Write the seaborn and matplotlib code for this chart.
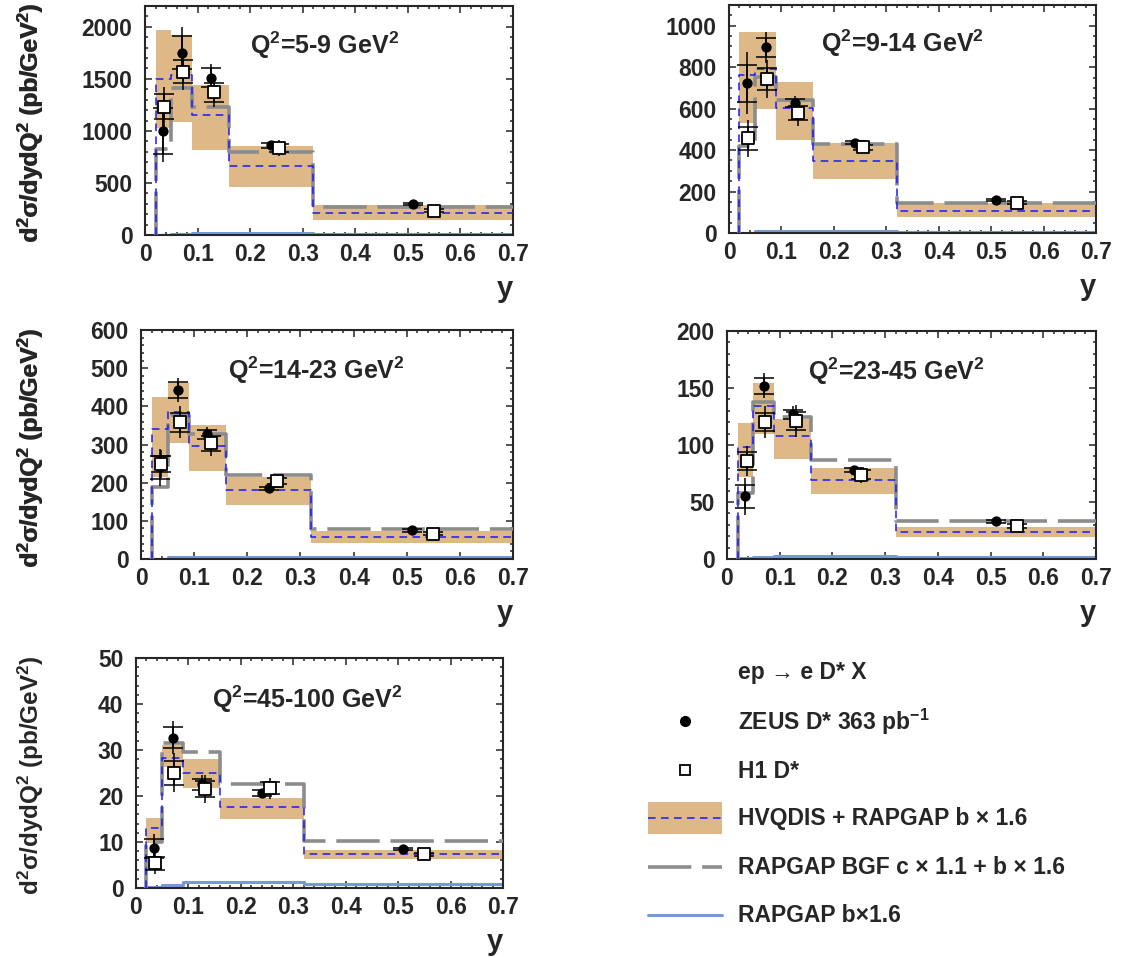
import numpy as np
import seaborn as sns
import matplotlib
matplotlib.use('Agg')
import matplotlib.pyplot as plt
from matplotlib.ticker import MultipleLocator, FuncFormatter
from matplotlib.patches import Rectangle

# y bin edges (same for all Q2 bins)
edges = [0.02, 0.05, 0.09, 0.16, 0.32, 0.70]
x_zeus = [0.035, 0.070, 0.125, 0.240, 0.510]
x_h1 = [0.037, 0.073, 0.131, 0.255, 0.550]

q2_labels = ["5-9", "9-14", "14-23", "23-45", "45-100"]

# ZEUS D* points: value, total error, stat error
zeus_vals = [[1000, 1750, 1510, 860, 300],
             [722, 896, 626, 436, 158],
             [240, 443, 327, 185, 75],
             [55, 152, 127, 78, 33],
             [8.6, 32.7, 22.6, 20.6, 8.5]]
zeus_tot = [[300, 250, 130, 45, 20],
            [150, 75, 35, 15, 10],
            [48, 32, 20, 8, 5],
            [16, 11, 7, 3, 1.5],
            [3.2, 3.5, 2.0, 1.0, 0.5]]
zeus_stat = [[220, 160, 90, 25, 10],
             [90, 45, 20, 8, 5],
             [30, 20, 12, 4, 3],
             [10, 7, 4, 2, 1],
             [2.0, 2.2, 1.2, 0.6, 0.3]]

# H1 D* points
h1_vals = [[1230, 1570, 1370, 835, 235],
           [457, 743, 580, 413, 145],
           [249, 358, 303, 204, 66],
           [86, 120, 121, 74, 29],
           [5.4, 25.1, 21.5, 21.7, 7.3]]
h1_tot = [[190, 175, 140, 80, 25],
          [90, 92, 62, 25, 15],
          [36, 42, 34, 15, 8],
          [13, 14, 14, 7, 3],
          [2.4, 4.3, 3.1, 2.3, 0.8]]
h1_stat = [[120, 110, 90, 40, 12],
           [55, 55, 35, 12, 7],
           [22, 25, 20, 8, 4],
           [8, 8, 8, 4, 1.5],
           [1.4, 2.6, 1.8, 1.3, 0.4]]

# HVQDIS + RAPGAP b x 1.6 : central value and uncertainty band
hvq_vals = [[1500, 1540, 1155, 665, 210],
            [762, 791, 602, 349, 108],
            [340, 384, 297, 181, 58],
            [98, 134, 108, 69, 24],
            [13, 28.2, 25, 17.7, 7.3]]
band_lo = [[1030, 1090, 820, 465, 140],
           [529, 597, 449, 261, 76],
           [216, 305, 231, 141, 43],
           [72, 110, 88, 57, 19],
           [9.7, 26.4, 21.7, 15, 6.2]]
band_hi = [[1970, 1920, 1440, 855, 290],
           [968, 968, 730, 433, 143],
           [425, 462, 350, 216, 74],
           [119, 154, 123, 80, 28],
           [15.3, 31, 28, 19.5, 8.3]]

# RAPGAP BGF c x 1.1 + b x 1.6
bgf_vals = [[830, 1410, 1230, 795, 270],
            [420, 754, 642, 429, 143],
            [189, 377, 327, 219, 78],
            [58, 138, 125, 87, 33],
            [10, 31.5, 29.6, 22.6, 10.2]]

# RAPGAP b x 1.6
rapb_vals = [[3, 10, 20, 20, 10],
             [2, 8, 10, 10, 5],
             [1, 4, 6, 6, 4],
             [0.5, 1.5, 2.5, 3, 2],
             [0.2, 0.7, 1.2, 1.3, 0.85]]

# y-axis ranges / tick steps
y_max = [2200, 1100, 600, 200, 50]
y_major = [500, 200, 100, 50, 10]
y_minor = [100, 50, 20, 10, 2]

# colours
c_band = '#deb887'
c_hvq = '#1a1aff'
c_bgf = '#8c8c8c'
c_rapb = '#7799d6'

sns.set_style('ticks')
plt.rcParams['font.family'] = ['Liberation Sans', 'DejaVu Sans']
plt.rcParams['font.weight'] = 'bold'
plt.rcParams['mathtext.fontset'] = 'custom'
plt.rcParams['mathtext.rm'] = 'Liberation Sans:bold'
plt.rcParams['mathtext.it'] = 'Liberation Sans:bold'
plt.rcParams['mathtext.bf'] = 'Liberation Sans:bold'
plt.rcParams['mathtext.default'] = 'rm'

W, H = 1127, 958
fig = plt.figure(figsize=(W / 100, H / 100), dpi=100)


def px_axes(l, t, r, b):
    return fig.add_axes([l / W, 1 - b / H, (r - l) / W, (b - t) / H])


# panel rectangles in pixels (left, top, right, bottom)
rects = [(145, 6, 513, 235), (729, 5, 1096, 233), (141, 330, 513, 559),
         (727, 331, 1096, 559), (136, 658, 503, 888)]
title_pos = [(0.285, 0.83), (0.25, 0.83), (0.234, 0.825), (0.22, 0.825), (0.207, 0.82)]


def step_xy(vals):
    xs = [edges[0]] + list(edges)
    ys = [0] + list(vals) + [vals[-1]]
    return xs, ys


for i, rect in enumerate(rects):
    ax = px_axes(*rect)

    ax.fill_between(edges, band_lo[i] + [band_lo[i][-1]], band_hi[i] + [band_hi[i][-1]],
                    step='post', color=c_band, lw=0, zorder=1)

    xs, ys = step_xy(rapb_vals[i])
    sns.lineplot(x=xs, y=ys, estimator=None, sort=False, drawstyle='steps-post',
                 color=c_rapb, lw=2.2, ax=ax, legend=False, zorder=2)
    xs, ys = step_xy(bgf_vals[i])
    sns.lineplot(x=xs, y=ys, estimator=None, sort=False, drawstyle='steps-post',
                 color=c_bgf, lw=2.6, linestyle=(0, (12, 3)), ax=ax, legend=False, zorder=3)
    xs, ys = step_xy(hvq_vals[i])
    sns.lineplot(x=xs, y=ys, estimator=None, sort=False, drawstyle='steps-post',
                 color=c_hvq, lw=1.1, linestyle=(0, (5, 3.5)), ax=ax, legend=False, zorder=4)

    # error bars: total (plain) + stat (with caps)
    for xv, yv, et, es in [(x_zeus, zeus_vals[i], zeus_tot[i], zeus_stat[i]),
                           (x_h1, h1_vals[i], h1_tot[i], h1_stat[i])]:
        ax.errorbar(xv, yv, yerr=et, fmt='none', ecolor='black', elinewidth=1.1,
                    capsize=0, zorder=5)
        ax.errorbar(xv, yv, yerr=es, fmt='none', ecolor='black', elinewidth=1.1,
                    capsize=7, capthick=1.1, zorder=5)

    sns.scatterplot(x=x_zeus, y=zeus_vals[i], marker='o', color='black', s=55,
                    edgecolor='black', linewidth=0, ax=ax, zorder=6)
    sns.scatterplot(x=x_h1, y=h1_vals[i], marker='s', facecolor='white', s=70,
                    edgecolor='black', linewidth=1.3, ax=ax, zorder=6)

    ax.set_xlim(0, 0.7)
    ax.set_ylim(0, y_max[i])
    ax.xaxis.set_major_locator(MultipleLocator(0.1))
    ax.xaxis.set_minor_locator(MultipleLocator(0.02))
    ax.yaxis.set_major_locator(MultipleLocator(y_major[i]))
    ax.yaxis.set_minor_locator(MultipleLocator(y_minor[i]))
    ax.xaxis.set_major_formatter(FuncFormatter(lambda v, p: '0' if abs(v) < 1e-9 else f'{v:.1f}'))
    ax.yaxis.set_major_formatter(FuncFormatter(lambda v, p: f'{v:g}'))
    ax.tick_params(which='both', direction='in', top=True, right=True, width=1.1,
                   labelsize=16.5)
    ax.tick_params(which='major', length=5)
    ax.tick_params(which='minor', length=2.5)
    ax.tick_params(axis='x', which='major', pad=6)
    ax.tick_params(axis='y', which='major', pad=9)
    for s in ax.spines.values():
        s.set_linewidth(1.5)
        s.set_visible(True)

    ax.set_xlabel('y', loc='right', fontsize=21, fontweight='bold', labelpad=6)
    ax.set_ylabel(r'd$^{2}$σ/dydQ$^{2}$ (pb/GeV$^{2}$)', loc='top', fontsize=17.5,
                  fontweight='bold')
    l, t, r, b = rect
    ax.yaxis.set_label_coords((46 - l) / (r - l), 1.01)

    tx, ty = title_pos[i]
    ax.text(tx, ty, r'Q$^{2}$=' + q2_labels[i] + r' GeV$^{2}$', transform=ax.transAxes,
            fontsize=18, fontweight='bold', ha='left', va='center')

# legend drawn by hand in pixel coordinates
lax = px_axes(560, 640, 1127, 958)
lax.set_xlim(560, 1127)
lax.set_ylim(958, 640)
lax.axis('off')
tx = 738
fs = 16.5
lax.text(tx, 673, 'ep → e D* X', fontsize=fs, fontweight='bold', va='center')
lax.plot([685], [721], marker='o', color='black', ms=7, ls='none')
lax.text(tx, 722, r'ZEUS D* 363 pb$^{-1}$', fontsize=fs, fontweight='bold', va='center')
lax.plot([685], [770], marker='s', mfc='white', mec='black', mew=1.3, ms=7, ls='none')
lax.text(tx, 771, 'H1 D*', fontsize=fs, fontweight='bold', va='center')
lax.add_patch(Rectangle((648, 802), 74, 32, color=c_band, lw=0))
lax.plot([648, 722], [818, 818], color=c_hvq, lw=1.1, ls=(0, (5, 3.5)))
lax.text(tx, 819, 'HVQDIS + RAPGAP b × 1.6', fontsize=fs, fontweight='bold', va='center')
lax.plot([648, 722], [867, 867], color=c_bgf, lw=2.6, ls=(0, (12, 3)))
lax.text(tx, 868, 'RAPGAP BGF c × 1.1 + b × 1.6', fontsize=fs, fontweight='bold', va='center')
lax.plot([648, 722], [915, 915], color=c_rapb, lw=2.2)
lax.text(tx, 916, 'RAPGAP b×1.6', fontsize=fs, fontweight='bold', va='center')

fig.savefig('out.png', dpi=100)
